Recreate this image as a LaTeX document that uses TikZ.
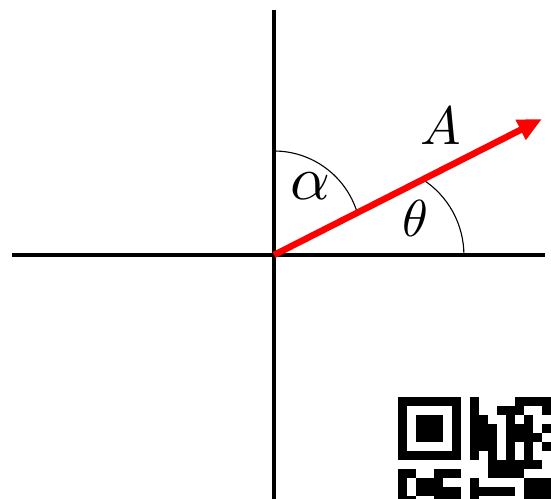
\documentclass[tikz,border=0pt]{standalone}
\usetikzlibrary{arrows.meta}
\begin{document}
\begin{tikzpicture}[x=1pt,y=1pt,
  axis/.style={line width=4pt,black},
  vec/.style={line width=6.5pt,red,-{Triangle[length=24pt,width=21pt]}},
  anglearc/.style={line width=1.1pt,black},
  lbl/.style={inner sep=0pt}]
\clip (0,0) rectangle (551,498);
\useasboundingbox (0,0) rectangle (551,498);
% axes
\coordinate (O) at (274,243);
\coordinate (ytop) at (274,488);
\coordinate (ybot) at (274,-2);
\coordinate (xl) at (12,243);
\coordinate (xr) at (545,243);
\draw[axis] (ybot) -- (ytop);
\draw[axis] (xl) -- (xr);
% angle arcs
\coordinate (tstart) at (422,319);
\coordinate (astart) at (274,347);
\draw[anglearc] (tstart) arc[start angle=57.7,end angle=0,radius=90];
\draw[anglearc] (astart) arc[start angle=90,end angle=17.4,radius=87];
% vector
\coordinate (tip) at (542,379);
\draw[vec] (O) -- (tip);
% labels
\node[lbl] (alpha) at (310,312) {\scalebox{6.2}{$\alpha$}};
\node[lbl] (theta) at (415,280) {\scalebox{5.2}{$\theta$}};
\node[lbl] (Alab) at (441,372) {\scalebox{5.4}{$A$}};
% QR fragment
\fill (398,38) rectangle (461,101);
\fill[white] (407,47) rectangle (452,92);
\fill (416,56) rectangle (443,83);
\foreach \r/\cs in {0/{8,13,14,15,16},1/{8,11,12,13,16},2/{8,9,12,14},
  3/{8,9,10,12,13,14,16},4/{8,9,10,12,13,14,15},5/{8,9,10,12,14,16},
  6/{8,10,12,14},7/{10,11,12,13,14,15},8/{0,1,4,5,6,10,11,12,13},
  9/{0,2,3,4,8,14,15,16},10/{0,2,3,4,5,6,8,9,10,11,12,14,15,16},
  11/{0,1,4,5,6,8,14,15,16}}{
  \foreach \c in \cs {
    \fill (398+9*\c,92-9*\r) rectangle ++(9,9);
  }
}
\end{tikzpicture}
\end{document}
